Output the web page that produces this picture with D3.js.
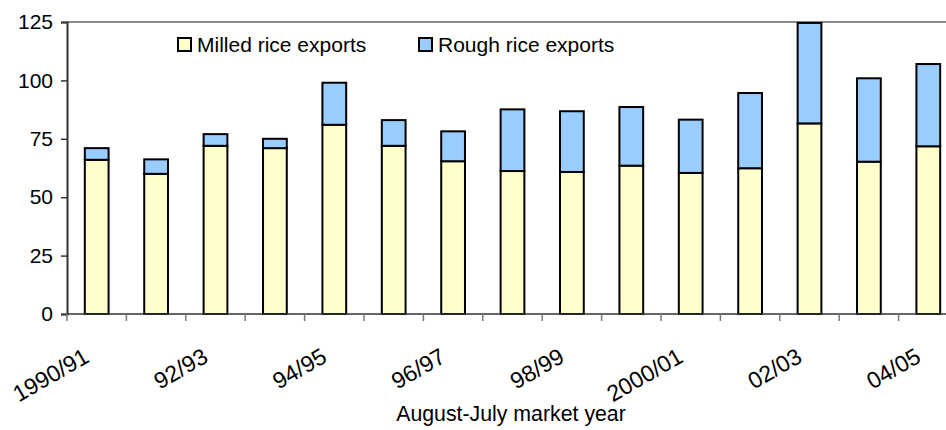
<!DOCTYPE html>
<html>
<head>
<meta charset="utf-8">
<script src="https://cdn.jsdelivr.net/npm/d3@7"></script>
<style>
  html, body { margin: 0; padding: 0; background: #fff; }
  svg { display: block; }
  svg text { font-family: "Liberation Sans", Arial, sans-serif; }
</style>
</head>
<body>
<svg id="chart" width="946" height="430"></svg>
<script>
// Market years, August-July
const years = ["1990/91", "91/92", "92/93", "93/94", "94/95", "95/96", "96/97", "97/98",
               "98/99", "99/00", "2000/01", "01/02", "02/03", "03/04", "04/05"];
// Milled rice exports (bottom segment)
const milled = [66, 60, 72, 71, 81, 72, 65.4, 61.2, 60.8, 63.5, 60.4, 62.4, 81.6, 65.2, 71.8];
// Rough rice exports (stacked on top)
const rough = [5, 6.2, 5, 4, 18, 11, 12.8, 26.4, 26, 25.1, 22.8, 32.2, 43, 35.7, 35.2];
// Which years carry a label on the x axis
const labelledYears = ["1990/91", "92/93", "94/95", "96/97", "98/99", "2000/01", "02/03", "04/05"];
const yTicks = [0, 25, 50, 75, 100, 125];
const seriesNames = ["Milled rice exports", "Rough rice exports"];
const seriesColors = ["#FFFFCC", "#99CCFF"];

const svg = d3.select("#chart");
const plotLeft = 67, plotRight = 958, plotTop = 22, plotBottom = 314;

const x = d3.scaleBand().domain(years).range([plotLeft, plotRight]).paddingInner(0.6).paddingOuter(0.3);
const y = d3.scaleLinear().domain([0, 125]).range([plotBottom, plotTop]);

const rows = years.map((yr, i) => ({ year: yr, milled: milled[i], rough: rough[i] }));
const stacked = d3.stack().keys(["milled", "rough"])(rows);

// plot area top border
svg.append("line").attr("x1", plotLeft).attr("x2", plotRight).attr("y1", plotTop).attr("y2", plotTop)
  .attr("stroke", "#8a8a8a").attr("stroke-width", 2);

// stacked bars
svg.append("g").selectAll("g").data(stacked).join("g")
  .attr("fill", (d, i) => seriesColors[i])
  .selectAll("rect").data(d => d).join("rect")
  .attr("x", d => x(d.data.year))
  .attr("width", x.bandwidth())
  .attr("y", d => y(d[1]))
  .attr("height", d => y(d[0]) - y(d[1]))
  .attr("stroke", "#000").attr("stroke-width", 2);

// y axis
const yAxis = svg.append("g").attr("transform", `translate(${plotLeft},0)`)
  .call(d3.axisLeft(y).tickValues(yTicks).tickSize(6).tickPadding(8))
  .attr("font-family", null).attr("font-size", null);
yAxis.select(".domain").attr("stroke", "#333").attr("stroke-width", 2);
yAxis.selectAll(".tick line").attr("stroke", "#333").attr("stroke-width", 1.5);
yAxis.selectAll(".tick text").attr("font-size", 21).attr("fill", "#000");

// x axis: ticks sit on category boundaries
const xg = svg.append("g").attr("transform", `translate(0,${plotBottom})`);
xg.append("line").attr("x1", plotLeft).attr("x2", plotRight).attr("stroke", "#333").attr("stroke-width", 1.5);
const boundaries = years.map(yr => x(yr) - x.step() * x.paddingOuter());
xg.selectAll("line.tk").data(boundaries).join("line").attr("class", "tk")
  .attr("x1", d => d).attr("x2", d => d).attr("y1", 0).attr("y2", 7)
  .attr("stroke", "#777").attr("stroke-width", 1.5);
xg.selectAll("text").data(labelledYears).join("text")
  .attr("transform", d => `translate(${x(d) + x.bandwidth() / 2 - 6},${47}) rotate(-30)`)
  .attr("text-anchor", "end")
  .attr("font-size", 23)
  .text(d => d);

// axis title
svg.append("text").attr("x", 511).attr("y", 421).attr("text-anchor", "middle")
  .attr("font-size", 21.3).text("August-July market year");

// legend
const legendX = [178, 419];
const lg = svg.append("g").selectAll("g").data(seriesNames).join("g")
  .attr("transform", (d, i) => `translate(${legendX[i]},38)`);
lg.append("rect").attr("width", 13).attr("height", 13)
  .attr("fill", (d, i) => seriesColors[i]).attr("stroke", "#000").attr("stroke-width", 2);
lg.append("text").attr("x", 19).attr("y", 14).attr("font-size", 21).text(d => d);
</script>
</body>
</html>
